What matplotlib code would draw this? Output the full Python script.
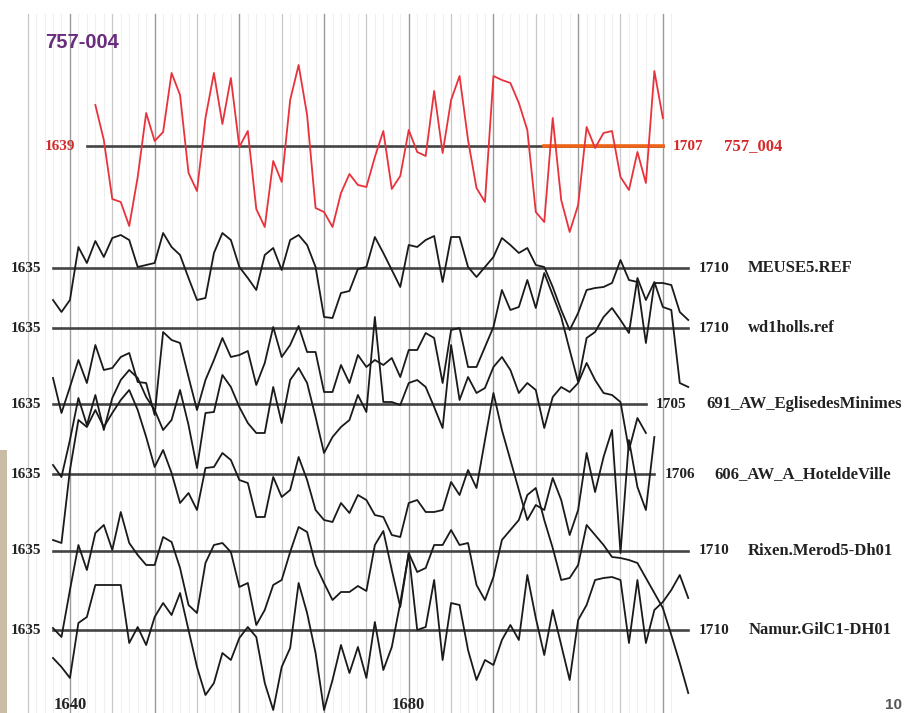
import matplotlib.pyplot as plt

# ring-width curves, stacked; values are deviations from each curve's reference line
RED_NAME = "757_004"
RED_FIRST, RED_LAST = 1639, 1707
RED_START = 1640
RED_VALUES = [41, 6, -53, -56, -80, -31, 33, 5, 14, 73,
              51, -27, -45, 28, 73, 22, 68, -1, 15, -63,
              -81, -15, -36, 46, 81, 31, -62, -66, -81, -47,
              -28, -39, -41, -11, 15, -43, -30, 16, -6, -10,
              55, -7, 46, 70, 6, -42, -56, 70, 66, 63,
              43, 16, -66, -76, 28, -54, -86, -59, 19, -2,
              13, 15, -31, -44, -6, -37, 75, 28]
MATCH_SPAN = (1693, 1707)

NAMES = ["MEUSE5.REF", "wd1holls.ref", "691_AW_EglisedesMinimes",
         "606_AW_A_HoteldeVille", "Rixen.Merod5-Dh01", "Namur.GilC1-DH01"]
FIRST = [1635, 1635, 1635, 1635, 1635, 1635]
LAST = [1710, 1710, 1705, 1706, 1710, 1710]

meuse5 = [-32, -44, -32, 21, 5, 27, 11, 30, 33, 28,
          1, 3, 5, 35, 21, 13, -10, -32, -30, 15,
          35, 28, 1, -10, -22, 13, 20, -2, 28, 33,
          23, 1, -49, -50, -25, -23, -1, 1, 31, 15,
          -2, -19, 23, 21, 28, 32, -14, 31, 31, 1,
          -9, 1, 11, 30, 23, 15, 20, 3, 1, -19,
          -42, -62, -45, -22, -20, -19, -15, 8, -12, -14,
          -75, -15, -15, -17, -44, -52]
wd1holls = [-50, -85, -59, -32, -55, -17, -42, -40, -29, -25,
            -54, -55, -87, -4, -12, -15, -49, -82, -52, -32,
            -10, -29, -27, -23, -57, -35, 1, -29, -17, 2,
            -24, -24, -64, -64, -37, -55, -27, -39, -32, -37,
            -30, -49, -22, -22, -5, -10, -55, -2, 0, -39,
            -39, -19, 1, 38, 18, 21, 48, 20, 55, 33,
            11, -22, -54, -10, -4, 11, 20, 8, -5, 50,
            28, 46, 21, 18, -55, -59]
minimes = [-61, -73, -36, 6, -21, 9, -26, 6, 24, 34,
           26, 7, -6, -26, -16, 14, -21, -64, -9, -8,
           29, 17, -3, -19, -29, -29, 17, -19, 24, 36,
           21, -13, -49, -33, -23, -16, 9, -8, 87, 2,
           2, -1, 21, 24, 17, -3, -24, 59, 4, 27,
           11, 16, 37, 47, 34, 11, 21, 14, -24, 7,
           17, 12, 21, 41, 24, 11, 9, 2, -46, -14,
           -29]
hotelville = [-66, -69, 4, 54, 47, 64, 47, 61, 74, 84,
              64, 37, 7, 24, 1, -29, -19, -36, 6, 7,
              21, 14, -6, -9, -43, -43, -3, -23, -16, 17,
              -6, -36, -46, -48, -29, -39, -21, -26, -41, -43,
              -61, -63, -29, -26, -38, -38, -36, -8, -21, 4,
              -14, 34, 81, 44, 14, -16, -46, -31, -36, -4,
              -26, -61, -36, 21, -18, 17, 44, -79, 34, -13,
              -36, 37]
rixen = [-77, -86, -39, 6, -19, 18, 26, 1, 39, 8,
         -4, -14, -14, 14, 9, -17, -54, -62, -12, 6,
         8, -1, -36, -32, -74, -59, -34, -29, -1, 24,
         19, -14, -32, -49, -41, -41, -35, -40, 6, 20,
         -19, -56, -2, -21, -17, 6, 6, 21, 6, 8,
         -34, -49, -26, 11, 21, 31, 56, 63, 31, 3,
         -29, -27, -14, 26, 16, 6, -6, -7, -9, -12,
         -27, -42, -57, -84, -112, -142]
namur = [-28, -37, -48, 7, 13, 45, 45, 45, 45, -13,
         3, -15, 13, 27, 15, 37, 0, -37, -65, -53,
         -23, -30, -8, 3, -7, -53, -80, -37, -18, 47,
         17, -23, -80, -50, -15, -43, -17, -48, 8, -40,
         -17, 27, 77, 0, 3, 50, -30, 27, 25, -20,
         -50, -30, -35, -10, 5, -10, 55, 12, -25, 20,
         -15, -50, 10, 25, 50, 52, 53, 50, -13, 50,
         -13, 20, 28, 40, 55, 32]
SERIES = [meuse5, wd1holls, minimes, hotelville, rixen, namur]

AXIS_LABELS = {1637: "1640", 1677: "1680"}

# layout (figure pixels)
W, H = 907, 713
X0, PX_PER_YEAR, YEAR0 = 53, 8.47, 1635
RED_BASE = 146
BASES = [268, 328, 404, 474, 551, 630]

x_left = YEAR0 - X0 / PX_PER_YEAR
x_right = x_left + W / PX_PER_YEAR
yr_px = 1 / PX_PER_YEAR

fig = plt.figure(figsize=(W / 100, H / 100), dpi=100)
ax = fig.add_axes([0, 0, 1, 1])
ax.set_xlim(x_left, x_right)
ax.set_ylim(H, 0)
ax.axis("off")

# year grid: faint every year, stronger every 5 and 10
for yr in range(1632, 1709):
    if (yr - 1637) % 10 == 0:
        c, lw = "#9a9a9a", 1.0
    elif (yr - 1637) % 5 == 0:
        c, lw = "#c8c8c8", 0.9
    else:
        c, lw = "#efefef", 0.8
    ax.plot([yr, yr], [14, H], color=c, lw=lw, zorder=0)

ax.add_patch(plt.Rectangle((x_left, 450), 7 * yr_px, H - 450,
                           color="#c9bda6", lw=0, zorder=1))

serif = dict(family="Liberation Serif", weight="bold")
YEAR_FS, NAME_FS = 11, 12

# reference curve in red
ax.plot([RED_FIRST, RED_LAST], [RED_BASE, RED_BASE], color="#444444", lw=1.9, zorder=2)
ax.plot(MATCH_SPAN, [RED_BASE, RED_BASE], color="#f06418", lw=2.6, zorder=3)
red_years = list(range(RED_START, RED_START + len(RED_VALUES)))
ax.plot(red_years, [RED_BASE - v for v in RED_VALUES], color="#e8323c",
        lw=1.3, zorder=4)
ax.text(RED_FIRST - 12 * yr_px, RED_BASE, str(RED_FIRST), color="#d42a2a",
        fontsize=YEAR_FS, ha="right", va="center", **serif)
ax.text(RED_LAST + 10 * yr_px, RED_BASE, str(RED_LAST), color="#d42a2a",
        fontsize=YEAR_FS, ha="left", va="center", **serif)
ax.text(RED_LAST + 61 * yr_px, RED_BASE, RED_NAME, color="#d42a2a",
        fontsize=NAME_FS, ha="left", va="center", **serif)

for name, first, last, vals, base in zip(NAMES, FIRST, LAST, SERIES, BASES):
    ax.plot([first, last], [base, base], color="#444444", lw=1.9, zorder=2)
    years = list(range(first, first + len(vals)))
    ax.plot(years, [base - v for v in vals], color="#1a1a1a", lw=1.3, zorder=4)
    ax.text(first - 12 * yr_px, base, str(first), fontsize=YEAR_FS,
            ha="right", va="center", color="#222222", **serif)
    ax.text(last + 10 * yr_px, base, str(last), fontsize=YEAR_FS,
            ha="left", va="center", color="#222222", **serif)
    ax.text(last + 60 * yr_px, base, name, fontsize=NAME_FS,
            ha="left", va="center", color="#222222", **serif)

for yr, lab in AXIS_LABELS.items():
    ax.text(yr, 705, lab, fontsize=12, ha="center", va="center",
            color="#222222", **serif)

ax.text(45 / PX_PER_YEAR + x_left, 42, "757-004", color="#6a2c7c", fontsize=14.5,
        weight="bold", family="Liberation Sans", ha="left", va="center")
ax.text(x_left + 885 * yr_px, 698, "10", color="#555555", fontsize=11,
        weight="bold", family="Liberation Sans", ha="left", va="top")

fig.savefig("out.png", dpi=100)
